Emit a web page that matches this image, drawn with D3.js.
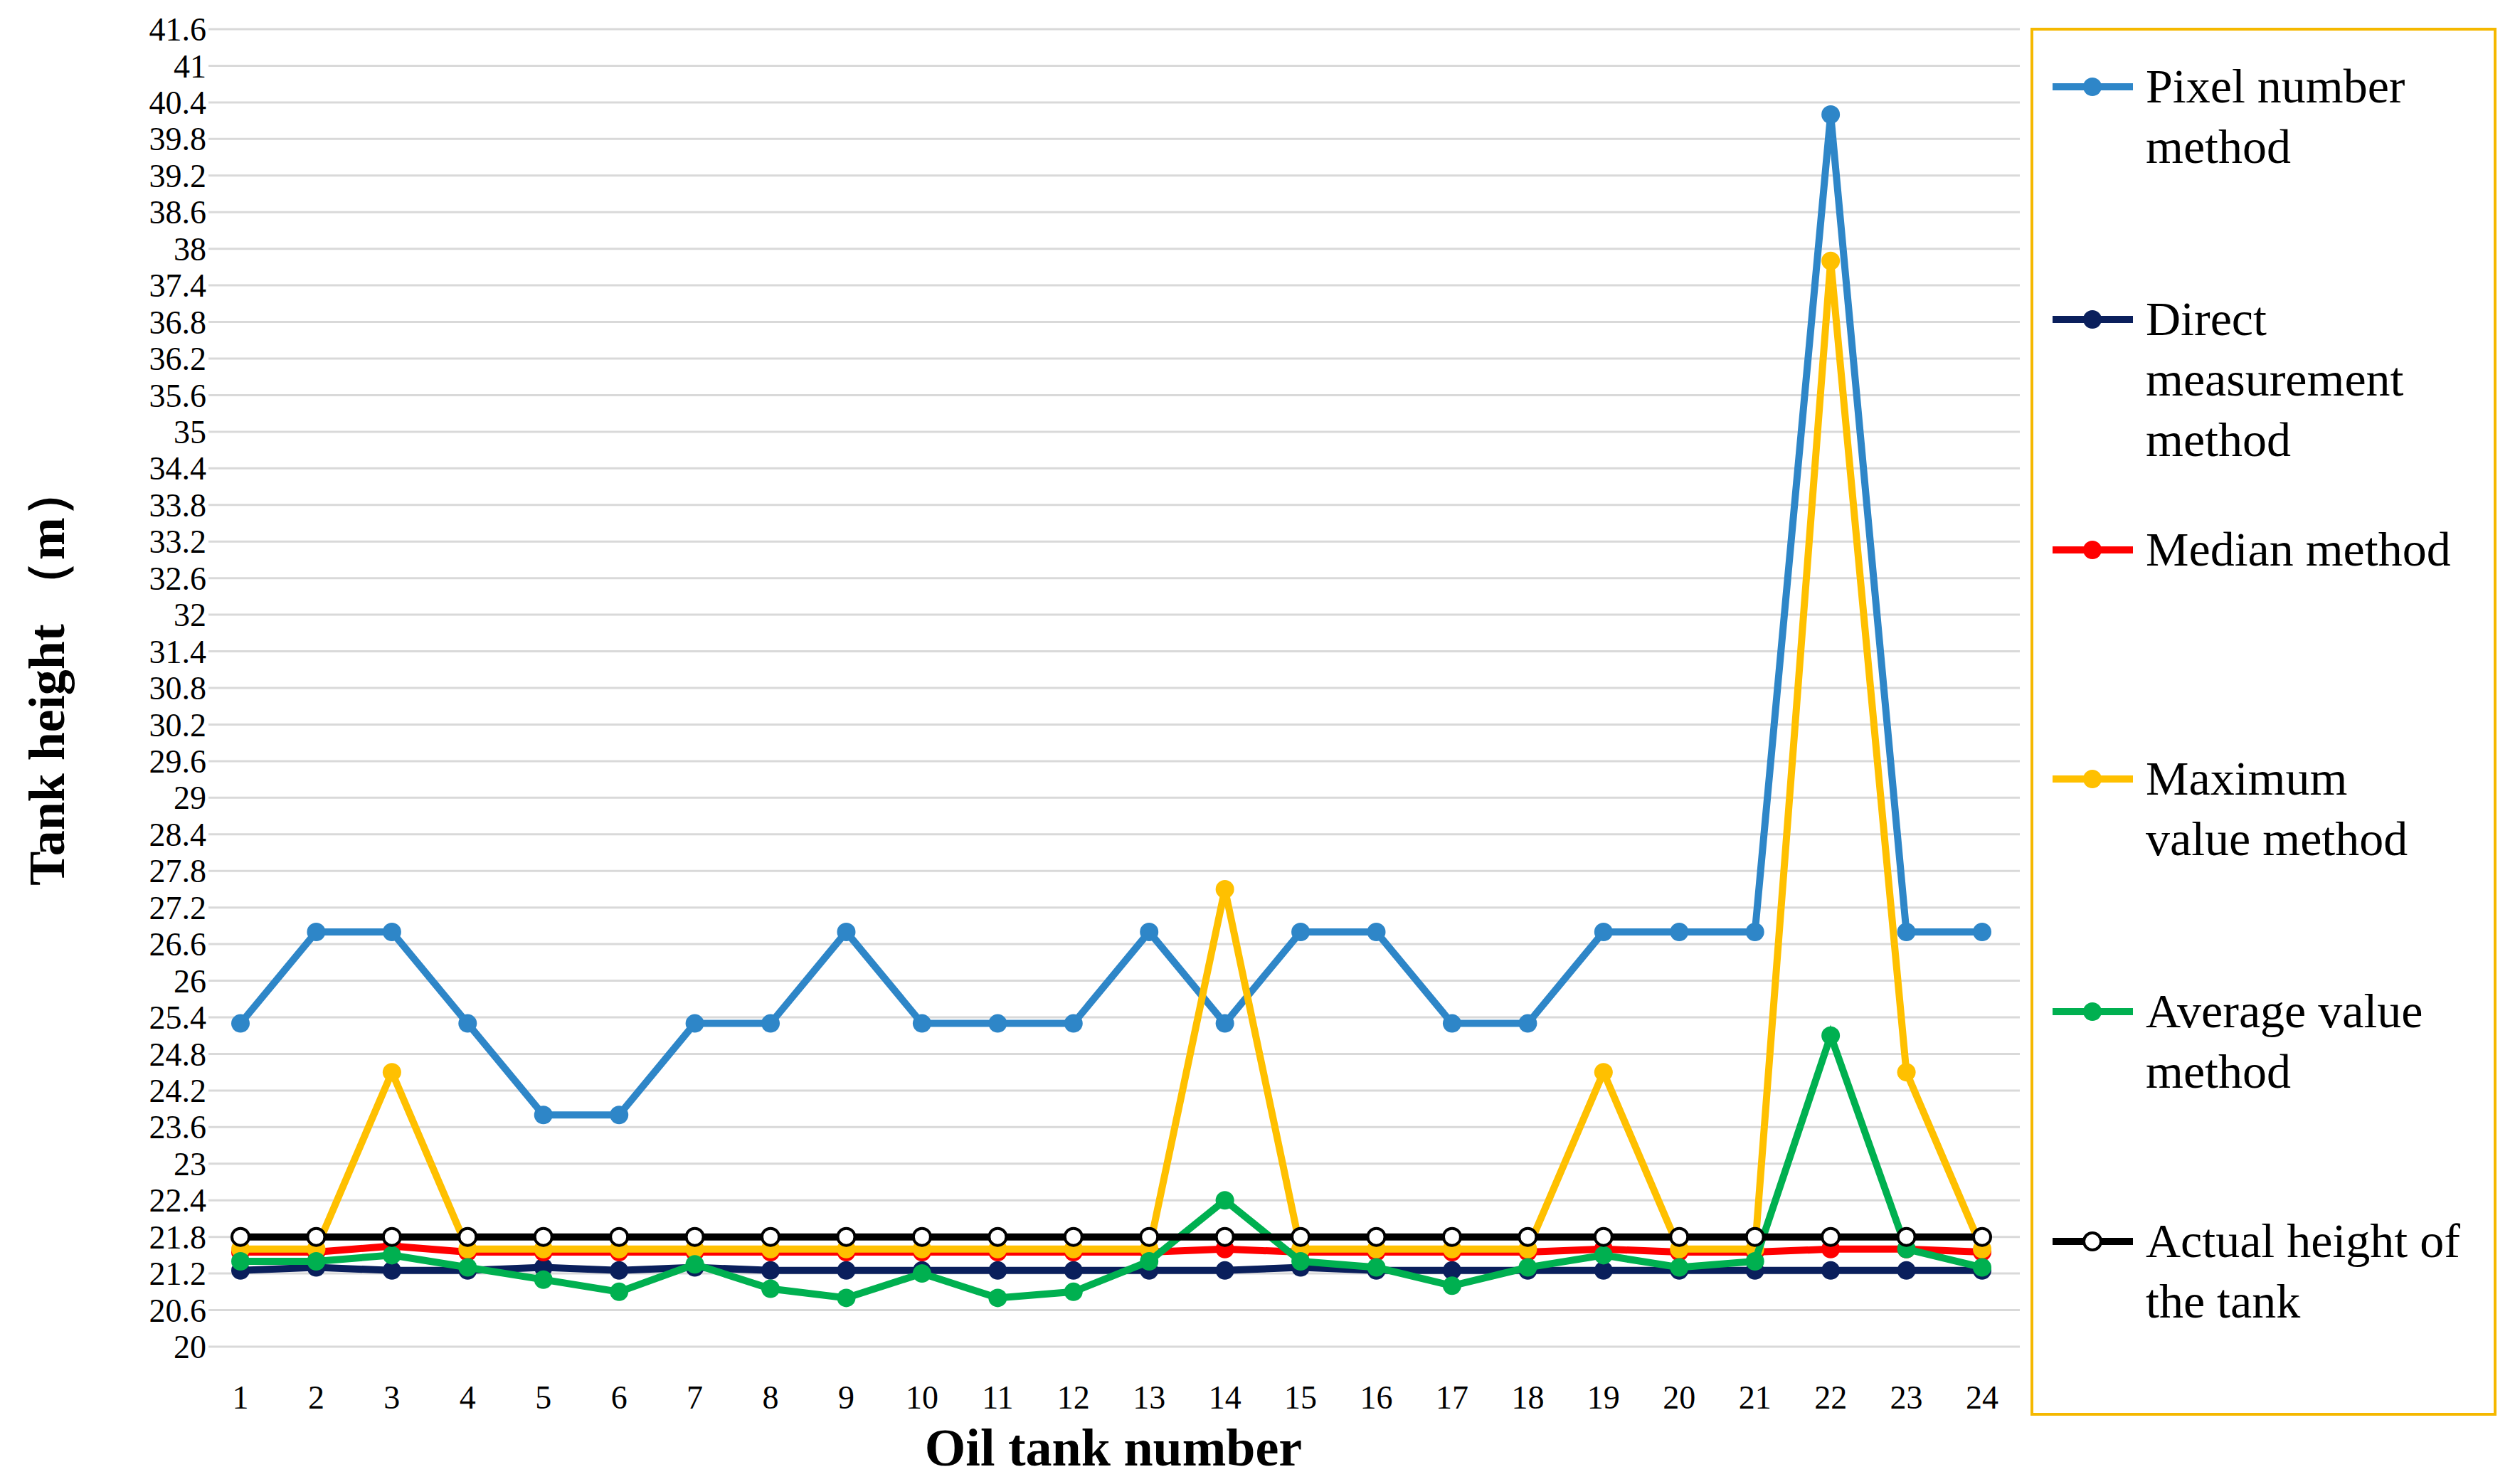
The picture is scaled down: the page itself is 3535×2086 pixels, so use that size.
<!DOCTYPE html><html><head><meta charset="utf-8"><script src="https://cdn.jsdelivr.net/npm/d3@7"></script>
<style>body{margin:0;background:#fff}</style></head><body><svg id="c" width="3535" height="2086"></svg><script>
const tanks=d3.range(1,25).map(String);
const pixel=[25.3,26.8,26.8,25.3,23.8,23.8,25.3,25.3,26.8,25.3,25.3,25.3,26.8,25.3,26.8,26.8,25.3,25.3,26.8,26.8,26.8,40.2,26.8,26.8];
const direct=[21.25,21.3,21.25,21.25,21.3,21.25,21.3,21.25,21.25,21.25,21.25,21.25,21.25,21.25,21.3,21.25,21.25,21.25,21.25,21.25,21.25,21.25,21.25,21.25];
const median=[21.55,21.55,21.65,21.55,21.55,21.55,21.55,21.55,21.55,21.55,21.55,21.55,21.55,21.6,21.55,21.55,21.55,21.55,21.6,21.55,21.55,21.6,21.6,21.55];
const maxv=[21.6,21.6,24.5,21.6,21.6,21.6,21.6,21.6,21.6,21.6,21.6,21.6,21.6,27.5,21.6,21.6,21.6,21.6,24.5,21.6,21.6,37.8,24.5,21.6];
const avg=[21.4,21.4,21.5,21.3,21.1,20.9,21.35,20.95,20.8,21.2,20.8,20.9,21.4,22.4,21.4,21.3,21.0,21.3,21.5,21.3,21.4,25.1,21.6,21.3];
const actual=Array(24).fill(21.8);
const yTicks=d3.range(0,37).map(i=>+(20+i*0.6).toFixed(1));
const series=[
 {name:["Pixel number","method"],v:pixel,c:"#2E86C8",y:122},
 {name:["Direct","measurement","method"],v:direct,c:"#0A1F5C",y:449},
 {name:["Median method"],v:median,c:"#FF0000",y:773},
 {name:["Maximum","value method"],v:maxv,c:"#FFC000",y:1095},
 {name:["Average value","method"],v:avg,c:"#00B050",y:1422},
 {name:["Actual height of","the tank"],v:actual,c:"#000",y:1745,open:true}];
const svg=d3.select("#c"),F="Liberation Serif, Times New Roman, serif";
const x=d3.scalePoint().domain(tanks).range([338,2786]);
const y=d3.scaleLinear().domain([20,41.6]).range([1893,41]);
const g=svg.append("g");
yTicks.forEach(t=>{g.append("line").attr("x1",293).attr("x2",2839).attr("y1",y(t)).attr("y2",y(t)).attr("stroke","#d9d9d9").attr("stroke-width",3);
 g.append("text").attr("x",290).attr("y",y(t)).attr("dy","0.35em").attr("text-anchor","end").attr("font-family",F).attr("font-size",46).text(t);});
tanks.forEach(t=>g.append("text").attr("x",x(t)).attr("y",1980).attr("text-anchor","middle").attr("font-family",F).attr("font-size",46).text(t));
svg.append("text").attr("x",1565).attr("y",2060).attr("text-anchor","middle").attr("font-family",F).attr("font-weight","bold").attr("font-size",74).text("Oil tank number");
svg.append("text").attr("transform","translate(90,950) rotate(-90)").attr("text-anchor","middle").attr("font-family",F).attr("font-weight","bold").attr("font-size",72).text("Tank height （m）");
const line=d3.line().x((d,i)=>x(tanks[i])).y(d=>y(d));
series.forEach(s=>{
 svg.append("path").attr("d",line(s.v)).attr("fill","none").attr("stroke",s.c).attr("stroke-width",10);
 svg.selectAll(null).data(s.v).enter().append("circle").attr("cx",(d,i)=>x(tanks[i])).attr("cy",d=>y(d)).attr("r",s.open?12:13)
  .attr("fill",s.open?"#fff":s.c).attr("stroke",s.c).attr("stroke-width",s.open?4:0);
});
svg.append("rect").attr("x",2856).attr("y",41).attr("width",651).attr("height",1947).attr("fill","none").attr("stroke","#F5B800").attr("stroke-width",4);
series.forEach(s=>{
 svg.append("line").attr("x1",2885).attr("x2",2998).attr("y1",s.y).attr("y2",s.y).attr("stroke",s.c).attr("stroke-width",10);
 svg.append("circle").attr("cx",2941).attr("cy",s.y).attr("r",s.open?12:13).attr("fill",s.open?"#fff":s.c).attr("stroke",s.c).attr("stroke-width",s.open?4:0);
 const t=svg.append("text").attr("font-family",F).attr("font-size",68).attr("x",3016).attr("y",s.y+22);
 s.name.forEach((n,i)=>t.append("tspan").attr("x",3016).attr("dy",i?85:0).text(n));
});
</script></body></html>
